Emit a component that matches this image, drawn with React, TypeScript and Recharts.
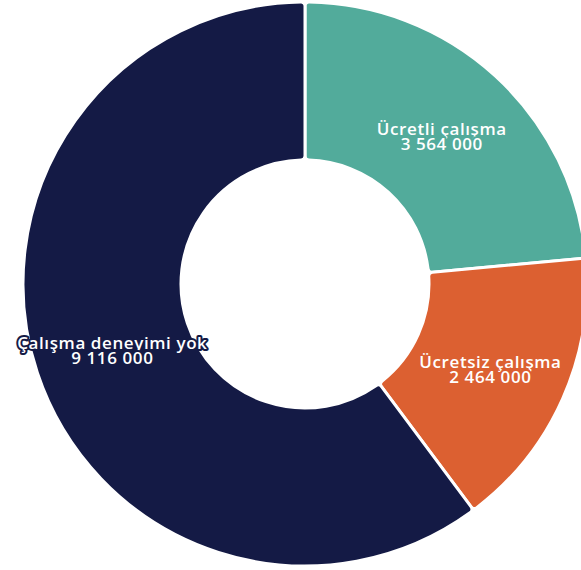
import { PieChart, Pie, Cell } from 'recharts';

const names = ['Ücretli çalışma', 'Ücretsiz çalışma', 'Çalışma deneyimi yok'];
const values = [3564000, 2464000, 9116000];
const sliceColors = ['#52AB9B', '#DC6031', '#141A45'];

const data = names.map((name, i) => ({ name, value: values[i] }));

const RADIAN = Math.PI / 180;

function formatNumber(n: number) {
    return String(n).replace(/\B(?=(\d{3})+(?!\d))/g, ' ');
}

function renderLabel(props: any) {
    const { cx, cy, midAngle, innerRadius, outerRadius, name, value, index } = props;
    const r = (innerRadius + outerRadius) / 2;
    const x = cx + r * Math.cos(-midAngle * RADIAN);
    const y = cy + r * Math.sin(-midAngle * RADIAN);
    const color = sliceColors[index % sliceColors.length];
    return (
        <text
            x={x}
            y={y}
            textAnchor="middle"
            fill="#fff"
            stroke={color}
            strokeWidth={4}
            strokeLinejoin="round"
            paintOrder="stroke"
            fontFamily="'Open Sans', sans-serif"
            fontSize={17}
            fontWeight={600}
            letterSpacing={0.6}
        >
            <tspan x={x} y={y + 1}>{name}</tspan>
            <tspan x={x} y={y + 16}>{formatNumber(value)}</tspan>
        </text>
    );
}

export default function App() {
    return (
        <div style={{ position: 'absolute', left: 0, top: 0, width: 581, height: 570, background: '#fff' }}>
            <PieChart width={581} height={570} margin={{ top: 0, right: 0, bottom: 0, left: 0 }}>
                <Pie
                    data={data}
                    dataKey="value"
                    nameKey="name"
                    cx={305}
                    cy={284}
                    innerRadius={124}
                    outerRadius={282}
                    startAngle={90}
                    endAngle={-270}
                    stroke="#fff"
                    strokeWidth={3}
                    cornerRadius={4}
                    label={renderLabel}
                    labelLine={false}
                    isAnimationActive={false}
                >
                    {data.map((_, index) => (
                        <Cell key={`cell-${index}`} fill={sliceColors[index]} />
                    ))}
                </Pie>
            </PieChart>
        </div>
    );
}
